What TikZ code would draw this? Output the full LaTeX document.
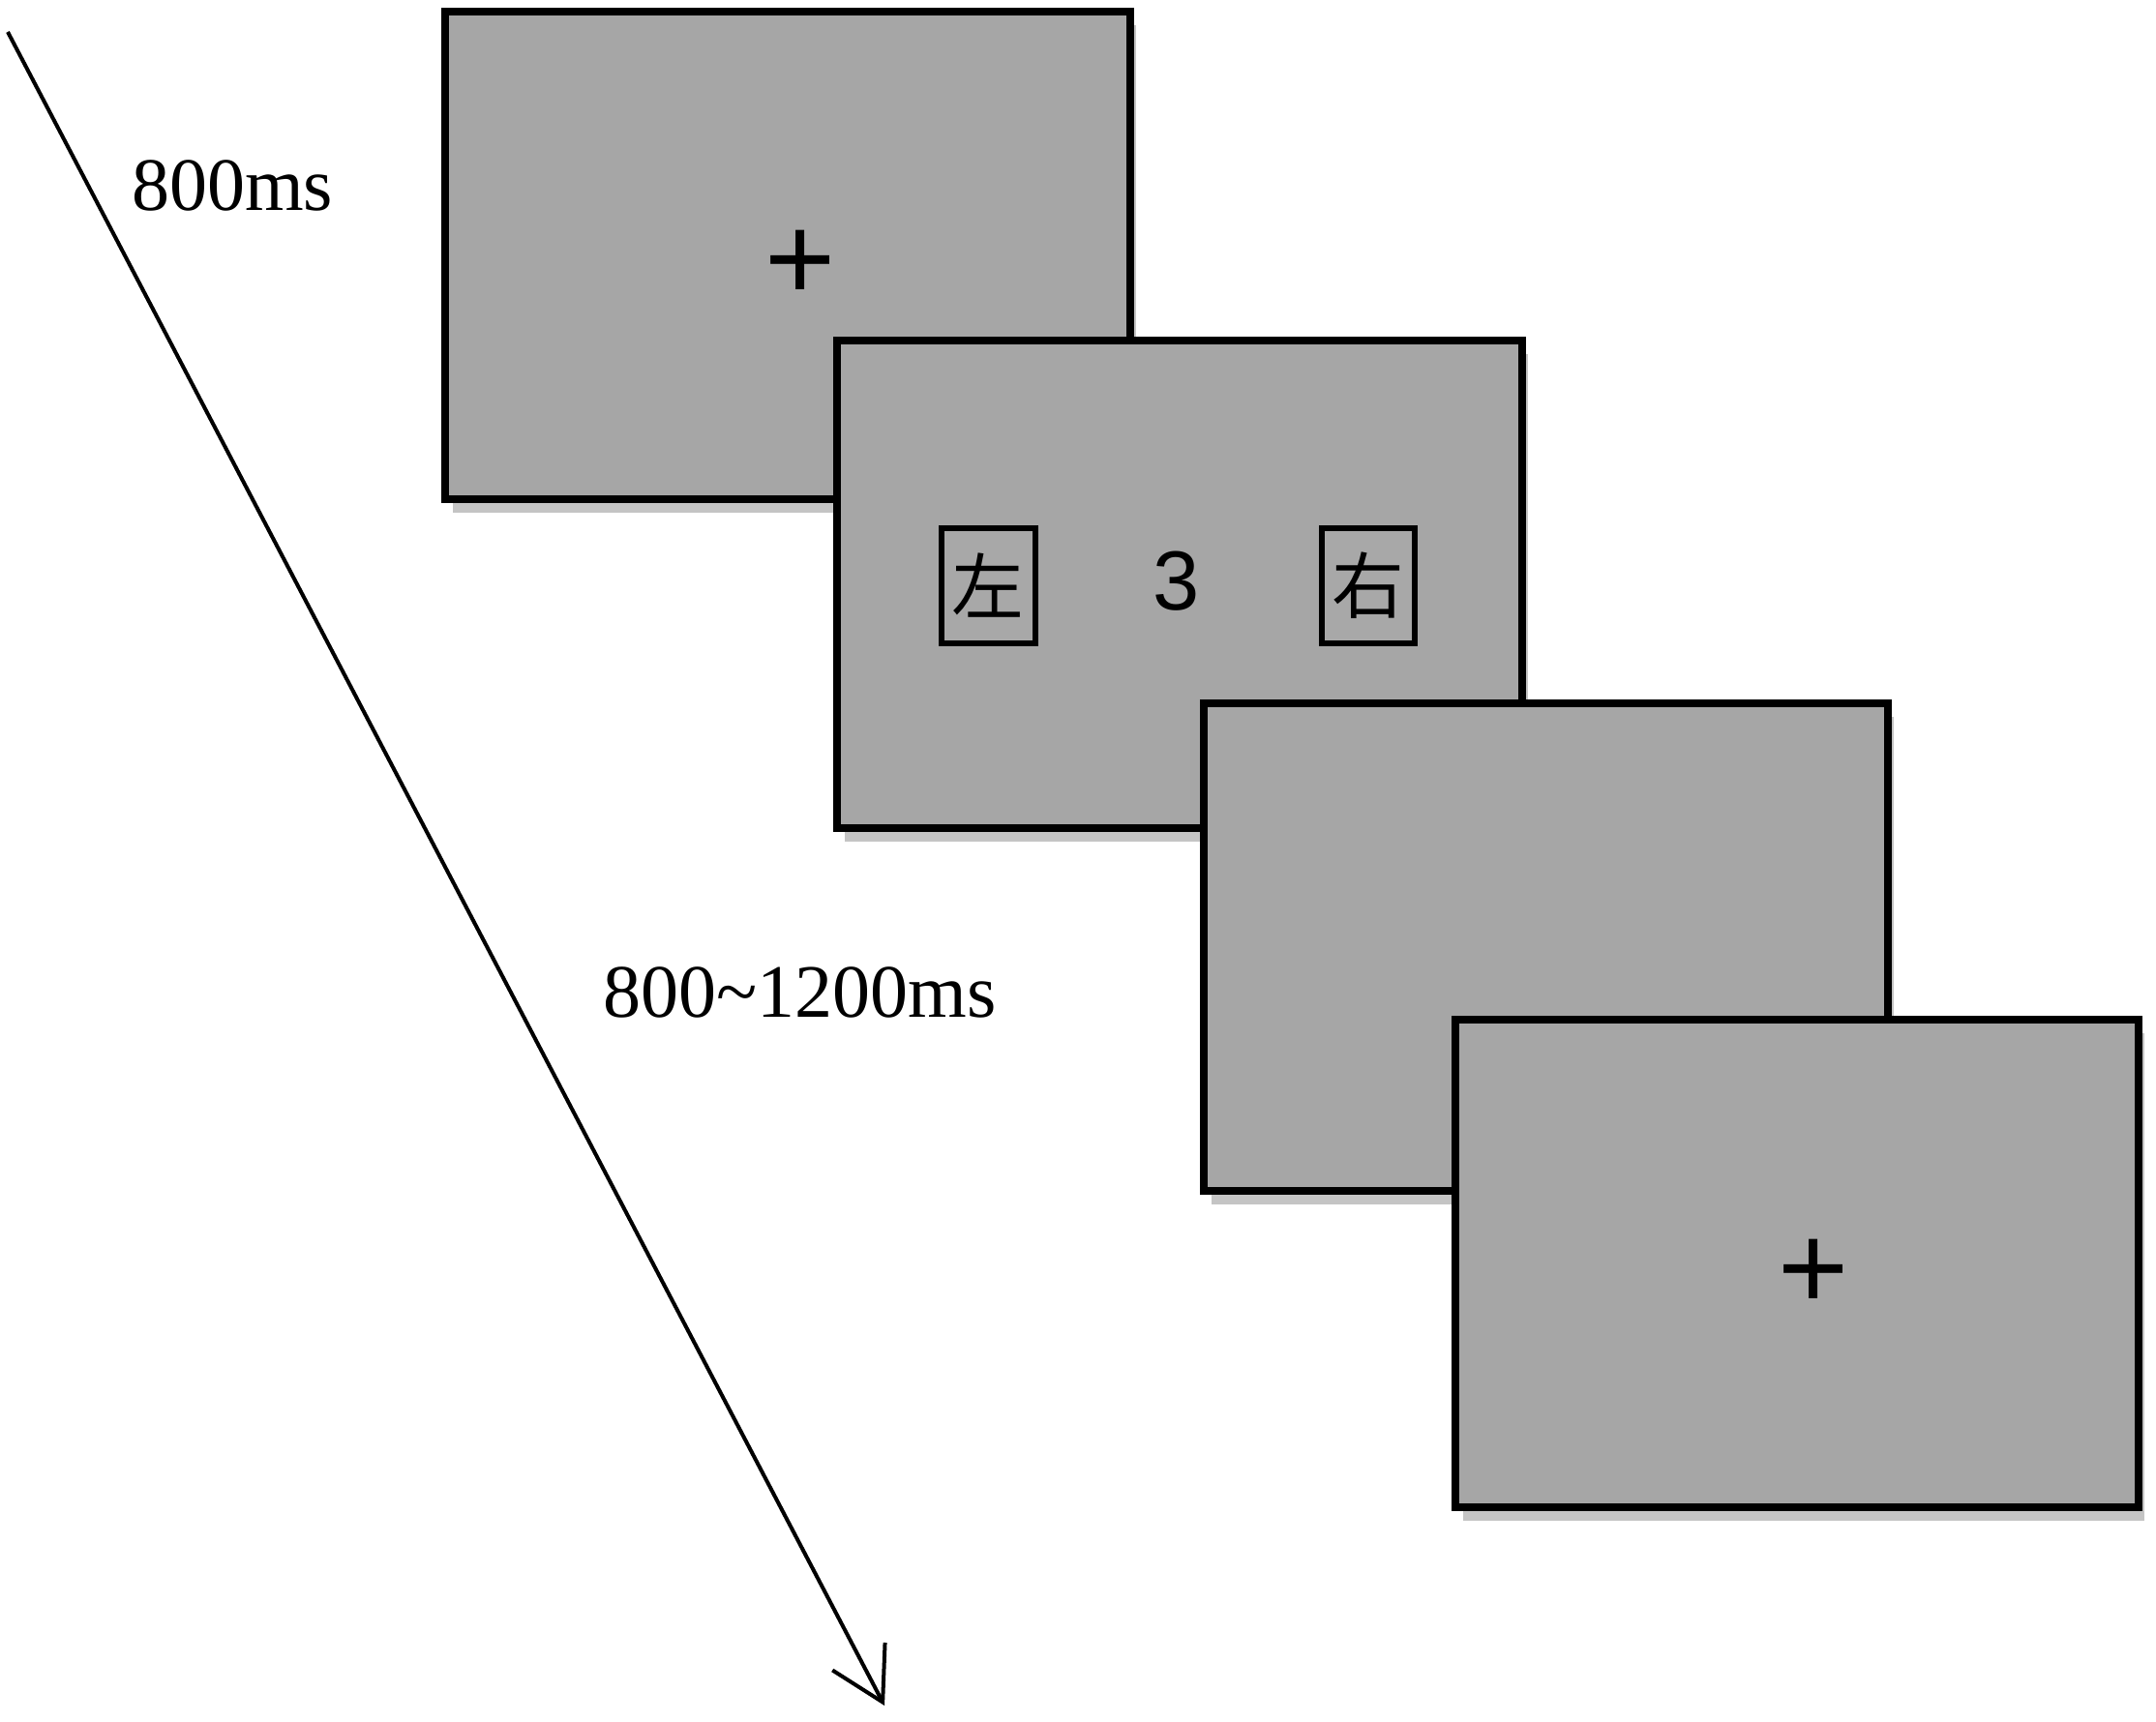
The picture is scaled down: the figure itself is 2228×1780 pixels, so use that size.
\documentclass[tikz,border=0pt]{standalone}
\usepackage{fontspec}
\setmainfont{Liberation Serif}
\newfontfamily\numfont{Liberation Sans}
\newfontfamily\cjkfont{Noto Sans CJK SC}
\usetikzlibrary{arrows.meta}

\begin{document}
\begin{tikzpicture}[x=0.75pt,y=0.75pt,yscale=-1,xscale=1,
  screen/.style={draw={rgb, 255:red, 0; green, 0; blue, 0 },fill={rgb, 255:red, 166; green, 166; blue, 166 },line width=6.4pt},
  screenshade/.style={draw=none,fill={rgb, 255:red, 196; green, 196; blue, 196 }},
  cuebox/.style={draw={rgb, 255:red, 0; green, 0; blue, 0 },fill={rgb, 255:red, 168; green, 168; blue, 168 },line width=4.7pt},
  timeline/.style={line width=3pt,-{Straight Barb[length=40pt,width=46pt,line width=3pt]}},
  timelabel/.style={anchor=base west,inner sep=0pt,font=\fontsize{58.5}{70}\selectfont},
  fixation/.style={inner sep=0pt,font=\numfont\fontsize{94}{110}\selectfont}]
\useasboundingbox (0,0) rectangle (2228,1780); %set diagram to the size of the reference

%Shape: Rectangle [fixation screen]
\draw [screenshade] (468,26) rectangle (1174,530) ;
\draw [screen] (460,12) rectangle (1168,516) ;
%Shape: Rectangle [cue screen]
\draw [screenshade] (873,366) rectangle (1579,870) ;
\draw [screen] (865,352) rectangle (1573,856) ;
%Shape: Rectangle [left cue box]
\draw [cuebox] (973,546) rectangle (1070,665) ;
%Shape: Rectangle [right cue box]
\draw [cuebox] (1366,546) rectangle (1462,665) ;
%Shape: Rectangle [blank screen]
\draw [screenshade] (1252,741) rectangle (1957,1245) ;
\draw [screen] (1244,727) rectangle (1951,1231) ;
%Shape: Rectangle [next fixation screen]
\draw [screenshade] (1512,1068) rectangle (2216,1572) ;
\draw [screen] (1504,1054) rectangle (2210,1558) ;

%Straight Lines [time axis]
\coordinate (tstart) at (8,33) ;
\coordinate (tend) at (914,1763) ;
\draw [timeline] (tstart) -- (tend) ;

% Text Node
\draw (136,218) node (fixtime) [timelabel] {800ms};
% Text Node
\draw (623,1051) node (cuetime) [timelabel] {800\textasciitilde1200ms};
% Text Node
\draw (827,274) node (fixA) [fixation] {+};
% Text Node
\draw (1874,1317) node (fixB) [fixation] {+};
% Text Node
\draw (1216,601) node (digit) [inner sep=0pt,font=\numfont\fontsize{65}{76}\selectfont] {3};
% Text Node
\draw (1021,605) node (leftcue) [inner sep=0pt,font=\cjkfont\fontsize{56}{66}\selectfont] {左};
% Text Node
\draw (1414,605) node (rightcue) [inner sep=0pt,font=\cjkfont\fontsize{56}{66}\selectfont] {右};

\end{tikzpicture}
\end{document}
